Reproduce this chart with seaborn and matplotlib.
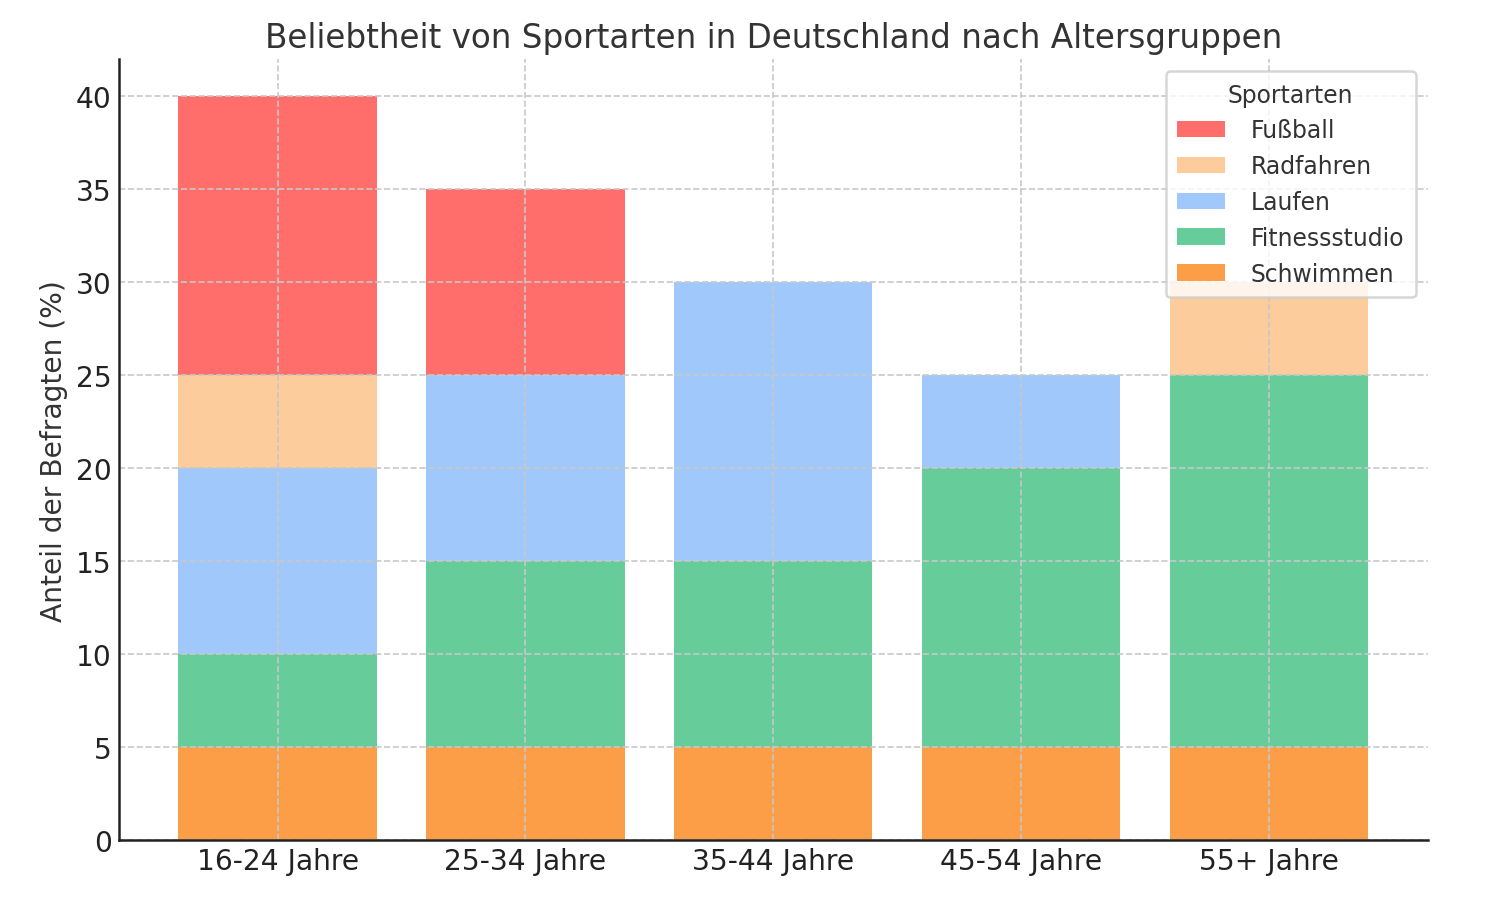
import numpy as np
import matplotlib
matplotlib.use('Agg')
import matplotlib.pyplot as plt
import seaborn as sns

# Data
age_groups = ['16-24 Jahre', '25-34 Jahre', '35-44 Jahre', '45-54 Jahre', '55+ Jahre']
schwimmen = [5, 5, 5, 5, 5]
fitnessstudio = [5, 10, 10, 15, 20]
laufen = [10, 10, 15, 5, 0]
radfahren = [5, 0, 0, 0, 5]
fussball = [15, 10, 0, 0, 0]

sports = ['Schwimmen', 'Fitnessstudio', 'Laufen', 'Radfahren', 'Fußball']
values = [schwimmen, fitnessstudio, laufen, radfahren, fussball]
colors = ['#fc9e47', '#66cc9a', '#a0c8fa', '#fdcc9c', '#ff6e6b']

sns.set_style('white')
plt.rcParams['font.family'] = ['DejaVu Sans']
text_color = '#333333'

fig = plt.figure(figsize=(1487 / 150, 909 / 150), dpi=150)
ax = fig.add_axes([0.080, 0.0748, 0.880, 0.859])

bottom = np.zeros(len(age_groups))
for sport, vals, col in zip(sports, values, colors):
    sns.barplot(x=age_groups, y=vals, bottom=bottom, color=col, label=sport,
                width=0.8, saturation=1, linewidth=0, ax=ax)
    bottom += np.array(vals)

ax.set_xlim(-0.64, 4.64)
ax.set_ylim(0, 42)
ax.set_yticks(range(0, 41, 5))
ax.grid(True, linestyle='--', color='#c8c8c8', linewidth=0.8)
ax.set_axisbelow(False)

ax.set_title('Beliebtheit von Sportarten in Deutschland nach Altersgruppen',
             fontsize=15.7, color=text_color)
ax.set_ylabel('Anteil der Befragten (%)', fontsize=13.5, color=text_color)
ax.set_xlabel('')
ax.tick_params(axis='both', direction='in', labelsize=13.5, colors='#222222', length=5, width=1.2)

for s in ['top', 'right']:
    ax.spines[s].set_visible(False)
for s in ['left', 'bottom']:
    ax.spines[s].set_color('#222222')
    ax.spines[s].set_linewidth(1.2)
    ax.spines[s].set_zorder(4)

handles, labels = ax.get_legend_handles_labels()
leg = ax.legend(handles[::-1], labels[::-1], title='Sportarten', loc='upper right',
                fontsize=11.3, title_fontsize=11.3, frameon=True, borderpad=0.5,
                labelspacing=0.5, handlelength=2.0, handletextpad=1.1)
leg.get_frame().set_edgecolor('#cccccc')
leg.get_frame().set_linewidth(1.2)
for t in leg.get_texts():
    t.set_color(text_color)
leg.get_title().set_color(text_color)

fig.savefig('out.png', dpi=150)
